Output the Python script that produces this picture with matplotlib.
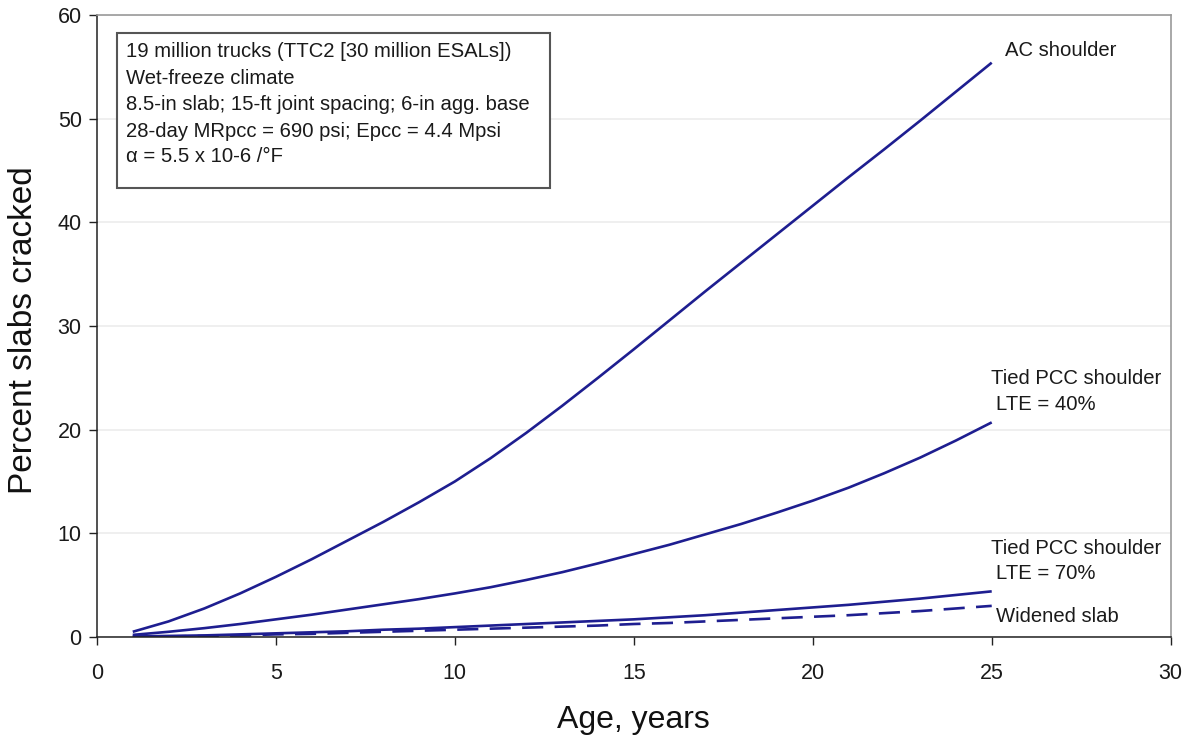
import matplotlib
matplotlib.use("Agg")
import matplotlib.pyplot as plt
from matplotlib.patches import Rectangle

plt.rcParams['font.family'] = ['Liberation Sans', 'DejaVu Sans']

# ---- data ----
age = list(range(1, 26))
ac_shoulder = [0.5, 1.5, 2.75, 4.2, 5.8, 7.5, 9.3, 11.1, 13.0, 15.0, 17.25, 19.7, 22.3,
               25.0, 27.75, 30.55, 33.35, 36.1, 38.85, 41.6, 44.35, 47.05, 49.8, 52.6, 55.4]
tied_lte40 = [0.2, 0.5, 0.85, 1.25, 1.7, 2.15, 2.65, 3.15, 3.65, 4.2, 4.8, 5.5, 6.25,
              7.1, 8.0, 8.9, 9.9, 10.9, 12.0, 13.15, 14.4, 15.8, 17.3, 18.95, 20.7]
tied_lte70 = [0.05, 0.1, 0.15, 0.25, 0.35, 0.45, 0.55, 0.7, 0.8, 0.95, 1.1, 1.25, 1.4,
              1.55, 1.7, 1.9, 2.1, 2.35, 2.6, 2.85, 3.1, 3.4, 3.7, 4.05, 4.4]
widened_slab = [0.0, 0.05, 0.1, 0.15, 0.25, 0.3, 0.4, 0.5, 0.6, 0.7, 0.8, 0.9, 1.0,
                1.1, 1.25, 1.35, 1.5, 1.65, 1.8, 1.95, 2.1, 2.3, 2.5, 2.75, 3.0]

x_ticks = [0, 5, 10, 15, 20, 25, 30]
y_ticks = [0, 10, 20, 30, 40, 50, 60]

box_lines = [
    "19 million trucks (TTC2 [30 million ESALs])",
    "Wet-freeze climate",
    "8.5-in slab; 15-ft joint spacing; 6-in agg. base",
    "28-day MRpcc = 690 psi; Epcc = 4.4 Mpsi",
    "\u03b1 = 5.5 x 10-6 /\u00b0F",
]

# ---- figure ----
fig = plt.figure(figsize=(11.97, 7.38), dpi=100)
ax = fig.add_axes([0.081, 0.1369, 0.897, 0.8428])

navy = '#1e1e90'
txt = '#1a1a1a'
ax.plot(age, ac_shoulder, color=navy, lw=1.9, solid_capstyle='butt')
ax.plot(age, tied_lte40, color=navy, lw=1.9, solid_capstyle='butt')
ax.plot(age, tied_lte70, color=navy, lw=1.9, solid_capstyle='butt')
ax.plot(age, widened_slab, color=navy, lw=1.9, dashes=(8, 4.3))

ax.set_xlim(0, 30)
ax.set_ylim(0, 60)
ax.set_xticks(x_ticks)
ax.set_yticks(y_ticks)
ax.yaxis.grid(True, color='#ececec', lw=1.2)
ax.set_axisbelow(True)

for s in ['left', 'bottom']:
    ax.spines[s].set_color('#222222')
    ax.spines[s].set_linewidth(1.1)
for s in ['top', 'right']:
    ax.spines[s].set_color('#9a9a9a')
    ax.spines[s].set_linewidth(1.2)

ax.tick_params(axis='both', direction='out', length=6, width=1.0, color='#222222',
               labelsize=15.5, labelcolor=txt)
ax.tick_params(axis='x', pad=13)
ax.tick_params(axis='y', pad=5)

ax.set_xlabel("Age, years", fontsize=23, color='#111111', va='center')
ax.xaxis.set_label_coords(0.5, -0.1334)
ax.set_ylabel("Percent slabs cracked", fontsize=24, color='#111111', va='center')
ax.yaxis.set_label_coords(-0.0684, 0.494)

# info box
ax.add_patch(Rectangle((0.0186, 0.7219), 0.4031, 0.2492, transform=ax.transAxes,
                       fill=True, facecolor='white', edgecolor='#555555', lw=1.5, zorder=5))
for i, line in enumerate(box_lines):
    ypx = [51.7, 78.3, 105.0, 131.7, 156.7][i]
    ax.text(0.0275, (637 - ypx) / 622, line, transform=ax.transAxes, ha='left',
            va='center', fontsize=14.6, color=txt, zorder=6)

# series labels
lab_fs = 14.6
ax.text(25.36, 56.6, "AC shoulder", fontsize=lab_fs, color=txt, ha='left', va='center')
ax.text(24.99, 24.98, "Tied PCC shoulder", fontsize=lab_fs, color=txt, ha='left', va='center')
ax.text(25.13, 22.4, "LTE = 40%", fontsize=lab_fs, color=txt, ha='left', va='center')
ax.text(24.99, 8.58, "Tied PCC shoulder", fontsize=lab_fs, color=txt, ha='left', va='center')
ax.text(25.13, 6.17, "LTE = 70%", fontsize=lab_fs, color=txt, ha='left', va='center')
ax.text(25.13, 1.93, "Widened slab", fontsize=lab_fs, color=txt, ha='left', va='center')

fig.savefig("out.png", dpi=100)
